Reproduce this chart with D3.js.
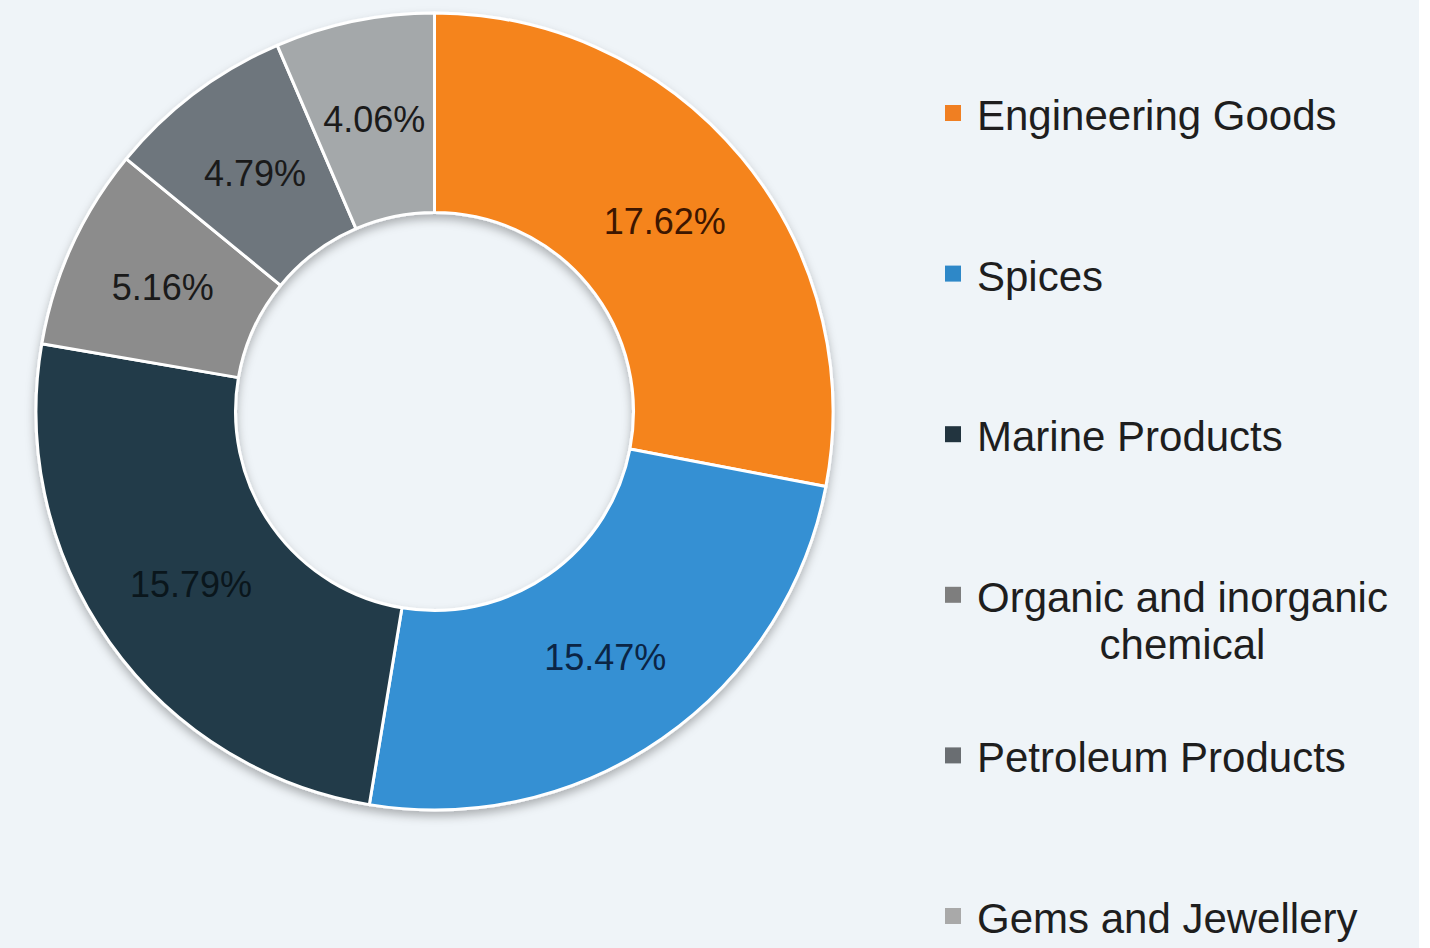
<!DOCTYPE html>
<html>
<head>
<meta charset="utf-8">
<script src="https://cdn.jsdelivr.net/npm/d3@7"></script>
<style>
  html, body { margin: 0; padding: 0; background: #ffffff; }
  svg { display: block; }
  text { font-family: "Liberation Sans", Arial, sans-serif; }
</style>
</head>
<body>
<svg id="chart" width="1430" height="948"></svg>
<script>
// ---- data ----
const categories = ["Engineering Goods", "Spices", "Marine Products", "Organic and inorganic chemical", "Petroleum Products", "Gems and Jewellery"];
const legendLines = [["Engineering Goods"], ["Spices"], ["Marine Products"], ["Organic and inorganic", "chemical"], ["Petroleum Products"], ["Gems and Jewellery"]];
const values = [17.62, 15.47, 15.79, 5.16, 4.79, 4.06];
const sliceColors = ["#F5841F", "#3490D3", "#213B48", "#8C8C8C", "#6E767D", "#A4A8AA"];
const legendColors = ["#F07F22", "#2E88C8", "#22343F", "#7E7E7E", "#6A6E72", "#A9A9A9"];
const labelColors = ["#3D1600", "#0B2545", "#0A161C", "#1A1A1A", "#1A1A1A", "#1A1A1A"];

const svg = d3.select("#chart");
svg.append("rect").attr("x", 0).attr("y", 0).attr("width", 1419).attr("height", 948).attr("fill", "#EFF4F8");

const defs = svg.append("defs");
const f = defs.append("filter").attr("id", "shadow").attr("x", "-10%").attr("y", "-10%").attr("width", "120%").attr("height", "125%");
f.append("feDropShadow").attr("dx", 0).attr("dy", 5).attr("stdDeviation", 5).attr("flood-color", "#000").attr("flood-opacity", 0.28);

const cx = 434.5, cy = 411.5, rOuter = 398.5, rInner = 199;

const pie = d3.pie().sort(null).value(d => d);
const arcs = pie(values);
const arc = d3.arc().innerRadius(rInner).outerRadius(rOuter);
const labelArc = d3.arc().innerRadius(rInner).outerRadius(rOuter);

const g = svg.append("g").attr("transform", `translate(${cx},${cy})`);
const sliceG = g.append("g").attr("filter", "url(#shadow)");
sliceG.selectAll("path").data(arcs).join("path")
  .attr("d", arc)
  .attr("fill", (d, i) => sliceColors[i])
  .attr("stroke", "#ffffff")
  .attr("stroke-width", 3)
  .attr("stroke-linejoin", "round");

g.selectAll("text.lbl").data(arcs).join("text")
  .attr("class", "lbl")
  .attr("transform", d => `translate(${labelArc.centroid(d)})`)
  .attr("text-anchor", "middle")
  .attr("dy", "0.36em")
  .attr("font-size", 36)
  .attr("fill", (d, i) => labelColors[i])
  .text(d => d.data.toFixed(2) + "%");

// ---- legend ----
const legY = d3.scalePoint().domain(categories).range([130, 933]);
const leg = svg.append("g");
categories.forEach((c, i) => {
  const y = legY(c);
  leg.append("rect")
    .attr("x", 945).attr("y", y - 25).attr("width", 16).attr("height", 16)
    .attr("fill", legendColors[i]);
  const lines = legendLines[i];
  if (lines.length === 1) {
    leg.append("text").attr("x", 977).attr("y", y)
      .attr("font-size", 42).attr("fill", "#1E1E1E").text(lines[0]);
  } else {
    const t = leg.append("text").attr("x", 977).attr("y", y)
      .attr("font-size", 42).attr("fill", "#1E1E1E").text(lines[0]);
    const w = t.node().getComputedTextLength();
    leg.append("text").attr("x", 977 + w / 2).attr("y", y + 47)
      .attr("text-anchor", "middle")
      .attr("font-size", 42).attr("fill", "#1E1E1E").text(lines[1]);
  }
});
</script>
</body>
</html>
